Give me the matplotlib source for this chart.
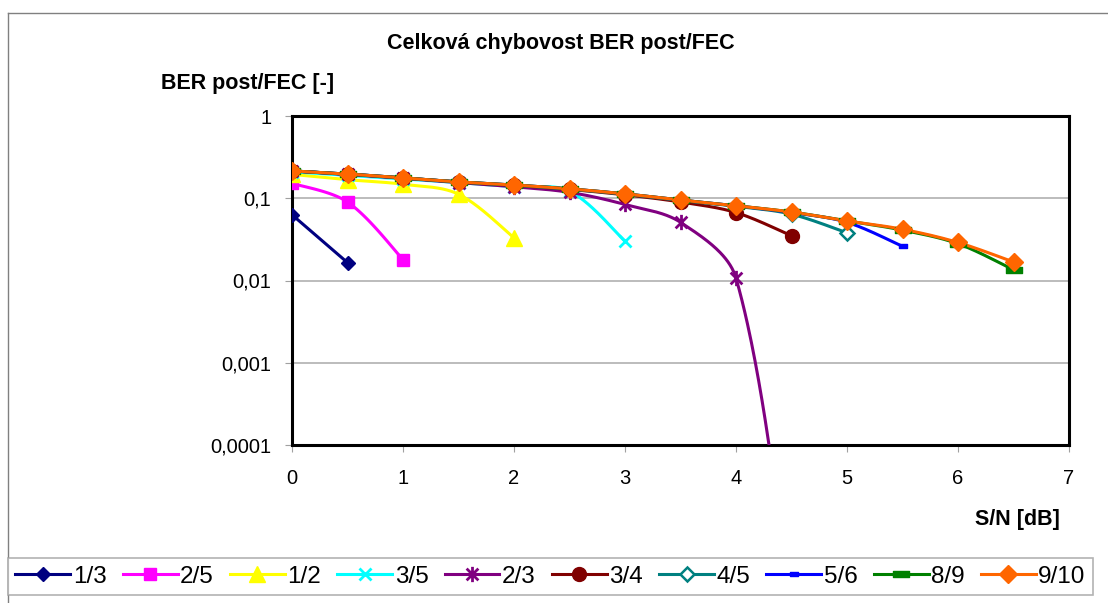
import numpy as np
import matplotlib
matplotlib.use("Agg")
import matplotlib.pyplot as plt
from matplotlib.path import Path
from matplotlib.lines import Line2D

plt.rcParams['font.family'] = ['Liberation Sans', 'DejaVu Sans']

# ---------------------------------------------
# DATA

labels = ['1/3', '2/5', '1/2', '3/5', '2/3', '3/4', '4/5', '5/6', '8/9', '9/10']

snr = [0, 0.5, 1, 1.5, 2, 2.5, 3, 3.5, 4, 4.5, 5, 5.5, 6, 6.5]

ber_13 = [0.063, 0.0165]
ber_25 = [0.152, 0.090, 0.018]
ber_12 = [0.195, 0.168, 0.148, 0.112, 0.033]
ber_35 = [0.21, 0.19, 0.172, 0.155, 0.138, 0.122, 0.030]
ber_23 = [0.215, 0.195, 0.175, 0.155, 0.138, 0.118, 0.084, 0.051, 0.0107, 1e-6]
ber_34 = [0.215, 0.196, 0.176, 0.157, 0.143, 0.128, 0.110, 0.090, 0.067, 0.035]
ber_45 = [0.215, 0.197, 0.177, 0.158, 0.144, 0.129, 0.112, 0.094, 0.080, 0.064, 0.038]
ber_56 = [0.215, 0.197, 0.177, 0.158, 0.145, 0.130, 0.113, 0.095, 0.081, 0.067, 0.051, 0.026]
ber_89 = [0.215, 0.197, 0.177, 0.158, 0.145, 0.130, 0.113, 0.095, 0.081, 0.068, 0.053, 0.041, 0.028, 0.0135]
ber_910 = [0.215, 0.197, 0.177, 0.158, 0.145, 0.130, 0.113, 0.095, 0.081, 0.068, 0.053, 0.042, 0.029, 0.0168]

series = [ber_13, ber_25, ber_12, ber_35, ber_23, ber_34, ber_45, ber_56, ber_89, ber_910]

yticks = [1, 0.1, 0.01, 0.001, 0.0001]
yticklabels = ['1', '0,1', '0,01', '0,001', '0,0001']
xticks = [0, 1, 2, 3, 4, 5, 6, 7]


# ---------------------------------------------
# MARKERS (excel-like)

star = Path([(-1, -1), (1, 1), (-1, 1), (1, -1), (0, -1.3), (0, 1.3)],
            [Path.MOVETO, Path.LINETO, Path.MOVETO, Path.LINETO, Path.MOVETO, Path.LINETO])
bar_small = Path([(-1, -0.5), (1, -0.5), (1, 0.5), (-1, 0.5), (-1, -0.5)],
                 [Path.MOVETO, Path.LINETO, Path.LINETO, Path.LINETO, Path.CLOSEPOLY])
bar_big = Path([(-1, -0.42), (1, -0.42), (1, 0.42), (-1, 0.42), (-1, -0.42)],
               [Path.MOVETO, Path.LINETO, Path.LINETO, Path.LINETO, Path.CLOSEPOLY])

styles = [
    dict(color='#000080', marker='D', ms=7),
    dict(color='#FF00FF', marker='s', ms=9),
    dict(color='#FFFF00', marker='^', ms=11),
    dict(color='#00FFFF', marker='x', ms=9, mew=2),
    dict(color='#800080', marker=star, ms=11, mew=2),
    dict(color='#800000', marker='o', ms=10),
    dict(color='#008080', marker='D', ms=7, mfc='white', mew=1.8),
    dict(color='#0000FF', marker=bar_small, ms=6),
    dict(color='#008000', marker=bar_big, ms=11),
    dict(color='#FF6600', marker='D', ms=9),
]

# pixel scale of the plot (x per unit, y per decade) - used for the smoothing
KX = 111.0
KY = 82.3


def smooth(x, y, n=60):
    # excel style smoothed line, bezier in screen space
    P = np.column_stack([np.array(x) * KX, np.log10(y) * KY])
    m = len(P)
    if m < 3:
        return np.array(x), np.array(y)
    hin = [None] * m
    hout = [None] * m
    for i in range(m):
        if i == 0:
            hout[i] = P[0] + (P[1] - P[0]) / 6
        elif i == m - 1:
            hin[i] = P[i] - (P[i] - P[i - 1]) / 6
        else:
            T = P[i + 1] - P[i - 1]
            dp = np.hypot(*(P[i] - P[i - 1]))
            dn = np.hypot(*(P[i + 1] - P[i]))
            hout[i] = P[i] + T * dn / (dp + dn) / 3
            hin[i] = P[i] - T * dp / (dp + dn) / 3
    out = []
    t = np.linspace(0, 1, n)[:, None]
    for i in range(m - 1):
        p1, c1, c2, p2 = P[i], hout[i], hin[i + 1], P[i + 1]
        b = (1 - t)**3 * p1 + 3 * (1 - t)**2 * t * c1 + 3 * (1 - t) * t**2 * c2 + t**3 * p2
        out.append(b if i == 0 else b[1:])
    out = np.vstack(out)
    return out[:, 0] / KX, 10**(out[:, 1] / KY)


# ---------------------------------------------
# FIGURE

fig = plt.figure(figsize=(11.08, 6.03), dpi=100)
ax = fig.add_axes([292/1108, 1 - 445/603, (1069 - 292)/1108, (445 - 116)/603])

handles = []
for lab, ber, st in zip(labels, series, styles):
    x = snr[:len(ber)]
    sx, sy = smooth(x, ber)
    ax.plot(sx, sy, color=st['color'], lw=2.2, zorder=3)
    ax.plot(x, ber, ls='none', marker=st['marker'], ms=st['ms'], color=st['color'],
            mfc=st.get('mfc', st['color']), mec=st['color'], mew=st.get('mew', 1), zorder=4)
    handles.append(Line2D([], [], color=st['color'], lw=2.2, marker=st['marker'], ms=st['ms'],
                          mfc=st.get('mfc', st['color']), mec=st['color'], mew=st.get('mew', 1)))

ax.set_yscale('log')
ax.set_xlim(0, 7)
ax.set_ylim(0.0001, 1)
ax.set_yticks(yticks)
ax.set_yticklabels(yticklabels)
ax.minorticks_off()
ax.set_xticks(xticks)
ax.tick_params(axis='both', labelsize=14.5, length=5, color='#a0a0a0', direction='out')
ax.tick_params(axis='y', pad=10)
ax.tick_params(axis='x', pad=12)
ax.grid(axis='y', color='#b0b0b0', lw=1.2)
ax.set_axisbelow(True)
for s in ax.spines.values():
    s.set_linewidth(2.2)
    s.set_color('black')

fig.text(561/1108, 1 - 44/603, 'Celková chybovost BER post/FEC', ha='center', va='center',
         fontsize=15.5, fontweight='bold')
fig.text(248/1108, 1 - 83/603, 'BER post/FEC [-]', ha='center', va='center',
         fontsize=15.5, fontweight='bold')
fig.text(1017/1108, 1 - 519/603, 'S/N [dB]', ha='center', va='center',
         fontsize=15.5, fontweight='bold')

# outer chart border (cut off at right and bottom)
fig.add_artist(Line2D([8/1108, 8/1108], [0, 1 - 13/603], transform=fig.transFigure,
                      color='#808080', lw=1))
fig.add_artist(Line2D([8/1108, 1], [1 - 13/603, 1 - 13/603], transform=fig.transFigure,
                      color='#808080', lw=1))

leg = fig.legend(handles, labels, ncol=10, loc='lower left', mode='expand',
                 bbox_to_anchor=(8/1108, 1 - 595/603, (1093 - 8)/1108, (595 - 557)/603),
                 fontsize=17.5, handlelength=2.26, handletextpad=0.1,
                 borderpad=0.3, borderaxespad=0, fancybox=False, frameon=True)
leg.get_frame().set_edgecolor('#a0a0a0')
leg.get_frame().set_linewidth(1.2)

fig.savefig('out.png', dpi=100)
